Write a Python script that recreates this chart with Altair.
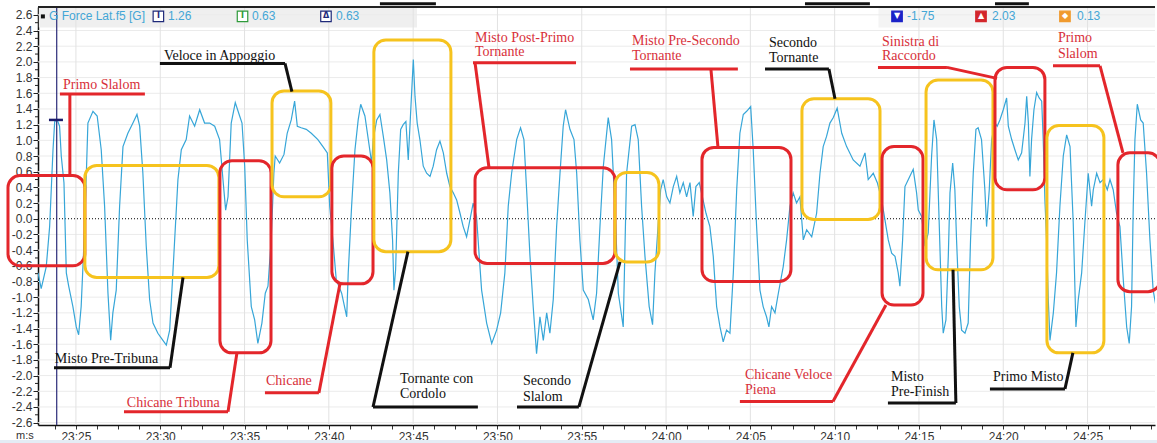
import altair as alt
import pandas as pd

# ---- lap trace: time in seconds (23:25 -> 23*60+25), lateral acceleration in G ----
time_s = [
    1402.75, 1402.94, 1403.24, 1403.44, 1403.64, 1403.74, 1403.89, 1404.03, 1404.13, 1404.29,
    1404.43, 1404.57, 1404.82, 1405.02, 1405.16, 1405.31, 1405.52, 1405.71, 1406.01, 1406.26,
    1406.50, 1406.70, 1406.90, 1407.06, 1407.19, 1407.39, 1407.59, 1407.79, 1408.08, 1408.38,
    1408.62, 1408.78, 1408.97, 1409.17, 1409.37, 1409.57, 1409.86, 1410.16, 1410.36, 1410.56,
    1410.75, 1411.05, 1411.25, 1411.54, 1411.74, 1412.04, 1412.34, 1412.63, 1412.93, 1413.23,
    1413.52, 1413.72, 1413.88, 1414.02, 1414.21, 1414.45, 1414.71, 1414.85, 1415.01, 1415.16,
    1415.40, 1415.60, 1415.79, 1416.03, 1416.23, 1416.39, 1416.58, 1416.74, 1416.82, 1417.08,
    1417.34, 1417.53, 1417.77, 1417.97, 1418.13, 1418.36, 1418.66, 1418.96, 1419.35, 1419.65,
    1419.91, 1420.05, 1420.24, 1420.44,
    1420.76, 1421.06, 1421.15, 1421.35, 1421.55, 1421.74, 1421.89, 1422.14, 1422.34, 1422.54,
    1422.63, 1422.84, 1423.03, 1423.23, 1423.43, 1423.62, 1423.78, 1423.86, 1423.96, 1424.12,
    1424.26, 1424.41, 1424.57, 1424.71, 1424.85, 1425.01, 1425.11, 1425.24, 1425.40, 1425.60,
    1425.80, 1426.00, 1426.19, 1426.39, 1426.59, 1426.79, 1426.99, 1427.18, 1427.38, 1427.58,
    1427.78, 1427.97, 1428.17, 1428.37, 1428.56, 1428.76, 1428.92, 1429.06, 1429.36, 1429.66,
    1429.95, 1430.19, 1430.44, 1430.64, 1430.84, 1431.14, 1431.37, 1431.57, 1431.73, 1431.93,
    1432.12, 1432.32, 1432.52, 1432.72, 1432.92, 1433.11, 1433.31, 1433.51, 1433.71, 1433.90,
    1434.04, 1434.30, 1434.54, 1434.70, 1434.89, 1435.09, 1435.39, 1435.68, 1435.88, 1436.08,
    1436.28, 1436.57, 1436.77, 1436.97, 1437.17, 1437.46,
    1437.66, 1437.96, 1438.16, 1438.35, 1438.55, 1438.75, 1439.00, 1439.20, 1439.34, 1439.54,
    1439.68, 1439.83, 1440.04, 1440.23, 1440.43, 1440.63, 1440.82, 1441.02, 1441.22, 1441.42,
    1441.61, 1441.77, 1441.97, 1442.37, 1442.60, 1442.80, 1443.00, 1443.20, 1443.39, 1443.59,
    1443.79, 1443.99, 1444.19, 1444.38, 1444.58, 1444.78, 1445.02, 1445.17, 1445.37, 1445.57,
    1445.76, 1445.96, 1446.10, 1446.26, 1446.46, 1446.66, 1446.95, 1447.15, 1447.35, 1447.54,
    1447.74, 1447.94, 1448.14, 1448.34, 1448.64, 1448.93, 1449.13, 1449.32, 1449.52, 1449.72,
    1449.92, 1450.15, 1450.42, 1450.71, 1451.10, 1451.50, 1451.80, 1451.99, 1452.29, 1452.53,
    1452.79, 1452.98, 1453.18, 1453.38, 1453.58, 1453.77, 1453.87, 1454.03, 1454.17,
    1454.37, 1454.66, 1454.86, 1454.96, 1455.16, 1455.36, 1455.55, 1455.75, 1455.89, 1456.05,
    1456.20, 1456.35, 1456.44, 1456.60, 1456.74, 1456.84, 1457.00, 1457.13, 1457.23, 1457.39,
    1457.53, 1457.73, 1457.92, 1458.06, 1458.22, 1458.38, 1458.51, 1458.71, 1458.91, 1459.01,
    1459.17, 1459.31, 1459.51, 1459.64, 1459.80, 1460.00, 1460.20, 1460.30, 1460.50, 1460.69,
    1460.89, 1461.09, 1461.29, 1461.39, 1461.49, 1461.58, 1461.68, 1461.82, 1461.98, 1462.13,
    1462.28, 1462.37, 1462.47, 1462.57, 1462.67, 1462.77, 1462.97, 1463.16, 1463.36, 1463.56,
    1463.76, 1463.96, 1464.15, 1464.31, 1464.45, 1464.65, 1464.84, 1465.04, 1465.24, 1465.34,
    1465.54, 1465.74, 1465.93, 1466.17, 1466.33, 1466.52, 1466.72, 1466.92, 1467.12, 1467.32,
    1467.47, 1467.61, 1467.71, 1467.81, 1467.95, 1468.15, 1468.30, 1468.50, 1468.70, 1468.89,
    1469.06,
]

lat_g = [
    -0.69, -0.89, -0.61, -0.10, 0.88, 1.24, 1.26, 1.18, 0.80, 0.46,
    -0.69, -0.86, -1.12, -1.38, -1.48, -1.12, -0.10, 1.22, 1.37, 1.31,
    0.88, 0.16, -0.95, -1.55, -1.20, -0.91, 0.16, 0.92, 1.09, 1.22,
    1.33, 1.18, 0.58, -0.35, -1.03, -1.33, -1.46, -1.55, -1.61, -1.42,
    -0.69, 0.50, 0.88, 1.01, 1.31, 1.18, 1.39, 1.22, 1.22, 1.18,
    1.01, 0.50, 0.11, 0.28, 1.22, 1.48, 1.31, 1.22, 0.67, -0.27,
    -1.12, -1.29, -1.59, -1.33, -0.95, -0.86, -0.27, 0.58, 0.80, 0.71,
    0.82, 1.09, 1.26, 1.50, 1.18, 1.16, 1.14, 1.09, 1.01, 0.92,
    0.84, 0.16, -0.27, -0.78,
    -0.95, -1.25, -0.69, 0.16, 0.88, 1.26, 1.46, 1.31, 1.01, 0.71,
    1.01, 1.26, 1.33, 1.05, 0.75, 0.33, -0.27, -0.91, -0.65, 0.58,
    1.14, 1.20, 1.24, 0.75, 1.35, 2.03, 1.56, 1.22, 1.01, 0.67,
    0.58, 0.54, 0.67, 0.88, 0.99, 0.84, 0.58, 0.41, 0.33, 0.24,
    0.07, -0.10, -0.23, -0.01, 0.20, 0.03, -0.48, -0.91, -1.33, -1.59,
    -1.42, -1.20, -0.69, 0.16, 0.58, 1.01, 1.16, 1.01, 0.37, -0.48,
    -1.12, -1.72, -1.25, -1.55, -1.20, -1.46, -1.03, -0.10, 0.58, 1.18,
    1.39, 1.14, 1.01, 0.58, -0.27, -0.91, -1.03, -1.29, -0.95, -0.10,
    0.67, 1.29, 1.01, 0.16, -0.95, -1.38,
    0.58, 1.18, 1.20, 1.01, 0.16, -0.48, -1.12, -1.35, -0.69, -0.05,
    0.37, 0.50, 0.28, 0.20, 0.41, 0.54, 0.33, 0.46, 0.28, 0.46,
    0.03, 0.41, 0.46, 0.07, -0.10, -0.48, -1.12, -1.38, -1.57, -1.42,
    -1.46, -0.69, 0.37, 1.09, 1.33, 1.37, 1.43, 0.88, -0.10, -0.91,
    -1.12, -1.25, -1.38, -1.12, -1.20, -0.95, -0.61, -0.27, 0.16, 0.33,
    0.20, 0.28, -0.27, -0.14, -0.23, 0.07, 0.58, 0.92, 1.05, 1.22,
    1.29, 1.41, 1.09, 0.92, 0.75, 0.67, 0.84, 0.50, 0.58, 0.46,
    0.24, -0.01, -0.27, -0.44, -0.48, -0.69, -0.86, -0.27, 0.41,
    0.50, 0.63, 0.33, 0.11, 0.03, -0.35, -0.18, 0.80, 1.26, 1.01,
    -0.05, -1.12, -1.46, -1.29, -0.48, 0.33, 0.71, 0.37, -0.27, -1.12,
    -1.42, -1.46, -1.33, -0.27, 0.58, 1.14, 1.16, 1.01, 0.37, -0.10,
    0.37, 1.01, 1.22, 1.18, 1.26, 1.39, 1.54, 1.18, 1.01, 0.88,
    0.75, 0.84, 1.22, 1.56, 1.22, 0.54, 1.01, 1.39, 1.61, 1.54,
    1.50, 1.01, 0.24, -0.27, -1.03, -1.55, -1.20, -0.69, 0.16, 0.80,
    1.07, 0.92, -0.05, -1.38, -1.03, -0.69, -0.05, 0.58, 0.16, 0.37,
    0.58, 0.46, 0.50, 0.37, 0.50, 0.37, 0.07, -0.10, -0.78, -1.38,
    -1.59, -1.12, 0.16, 1.01, 1.46, 1.26, 1.22, 0.58, -0.27, -0.91,
    -1.12,
]

# ---- track sections: (start s, end s, top G, bottom G, colour) ----
RED = "#e3262b"
YEL = "#f6c31e"
RED_TXT = "#d8303a"
BLK = "#111111"

sections = [
    (1400.97, 1405.53, 0.55, -0.60, RED),
    (1405.53, 1413.48, 0.68, -0.75, YEL),
    (1413.54, 1416.57, 0.74, -1.71, RED),
    (1416.63, 1420.12, 1.63, 0.28, YEL),
    (1420.18, 1422.62, 0.80, -0.83, RED),
    (1422.67, 1427.24, 2.28, -0.42, YEL),
    (1428.67, 1436.97, 0.65, -0.57, RED),
    (1436.97, 1439.58, 0.59, -0.55, YEL),
    (1442.13, 1447.41, 0.91, -0.80, RED),
    (1448.06, 1452.69, 1.53, -0.01, YEL),
    (1452.81, 1455.24, 0.92, -1.10, RED),
    (1455.42, 1459.39, 1.77, -0.65, YEL),
    (1459.51, 1462.47, 1.93, 0.37, RED),
    (1462.59, 1465.97, 1.19, -1.71, YEL),
    (1466.80, 1469.30, 0.84, -0.93, RED),
]

# leader lines: (s1, G1, s2, G2, colour)
leaders = [
    (1404.05, 1.59, 1409.09, 1.59, RED), (1404.64, 1.59, 1404.64, 0.55, RED),
    (1409.98, 1.98, 1417.40, 1.98, BLK), (1417.40, 1.98, 1417.81, 1.62, BLK),
    (1403.70, -1.90, 1410.58, -1.90, BLK), (1410.58, -1.90, 1411.35, -0.75, BLK),
    (1407.85, -2.46, 1414.02, -2.46, RED), (1414.02, -2.46, 1414.55, -1.71, RED),
    (1416.21, -2.22, 1419.41, -2.22, RED), (1419.41, -2.22, 1420.66, -0.83, RED),
    (1422.62, -2.40, 1428.84, -2.40, BLK), (1422.62, -2.40, 1424.69, -0.42, BLK),
    (1431.16, -2.40, 1434.83, -2.40, BLK), (1434.83, -2.40, 1437.27, -0.55, BLK),
    (1428.55, 1.99, 1434.66, 1.99, RED), (1428.67, 1.99, 1429.50, 0.65, RED),
    (1437.86, 1.91, 1444.26, 1.91, RED), (1442.66, 1.91, 1443.08, 0.91, RED),
    (1445.87, 1.91, 1449.66, 1.91, BLK), (1449.66, 1.91, 1450.02, 1.53, BLK),
    (1452.57, 1.93, 1456.66, 1.93, RED), (1456.66, 1.93, 1459.63, 1.79, RED),
    (1462.95, 1.95, 1465.74, 1.95, RED), (1465.74, 1.95, 1467.10, 0.84, RED),
    (1444.38, -2.33, 1449.90, -2.33, RED), (1449.90, -2.33, 1453.04, -1.10, RED),
    (1453.16, -2.35, 1457.19, -2.35, BLK), (1457.19, -2.35, 1457.02, -0.65, BLK),
    (1459.21, -2.17, 1463.66, -2.17, BLK), (1463.66, -2.17, 1464.13, -1.71, BLK),
]

# section names: (text, s, G, colour)
names = [
    ("Primo Slalom", 1404.23, 1.71, RED_TXT),
    ("Veloce in Appoggio", 1410.22, 2.08, BLK),
    ("Misto Pre-Tribuna", 1403.75, -1.79, BLK),
    ("Chicane Tribuna", 1408.02, -2.35, RED_TXT),
    ("Chicane", 1416.27, -2.07, RED_TXT),
    ("Tornante con", 1424.22, -2.04, BLK), ("Cordolo", 1424.22, -2.23, BLK),
    ("Secondo", 1431.51, -2.07, BLK), ("Slalom", 1431.51, -2.27, BLK),
    ("Misto Post-Primo", 1428.67, 2.31, RED_TXT), ("Tornante", 1428.67, 2.12, RED_TXT),
    ("Misto Pre-Secondo", 1437.98, 2.27, RED_TXT), ("Tornante", 1437.98, 2.08, RED_TXT),
    ("Secondo", 1446.10, 2.24, BLK), ("Tornante", 1446.10, 2.05, BLK),
    ("Sinistra di", 1452.81, 2.26, RED_TXT), ("Raccordo", 1452.81, 2.07, RED_TXT),
    ("Primo", 1463.24, 2.30, RED_TXT), ("Slalom", 1463.24, 2.10, RED_TXT),
    ("Chicane Veloce", 1444.68, -1.99, RED_TXT), ("Piena", 1444.68, -2.19, RED_TXT),
    ("Misto", 1453.34, -2.02, BLK), ("Pre-Finish", 1453.34, -2.21, BLK),
    ("Primo Misto", 1459.39, -2.02, BLK),
]

# cursor readout strip
cursor_s = 1403.86
cursor_g = 1.26
stat_icons = [  # (s, glyph, box colour, glyph colour, filled)
    (1409.89, "I", "#1f2a7a", "#1f2a7a", False),
    (1414.88, "I", "#2e9a3a", "#2e9a3a", False),
    (1419.83, "\u0394", "#1f2a7a", "#1f2a7a", False),
    (1453.70, "\u25bc", "#1b22c8", "#ffffff", True),
    (1458.68, "\u25b2", "#d3262b", "#ffffff", True),
    (1463.66, "\u25c6", "#f09a2e", "#ffffff", True),
]
stat_values = [(1410.46, "1.26"), (1415.44, "0.63"), (1420.42, "0.63"),
               (1454.29, "-1.75"), (1459.33, "2.03"), (1464.37, "0.13")]

T0, T1 = 1402.75, 1469.0
G0, G1 = -2.63, 2.70
HEAD_G = 2.58
TRACE = "#37a6d8"

x_ticks = [1403.75 + 1.25 * i for i in range(53)]
y_ticks = [round(-2.6 + 0.2 * i, 1) for i in range(27)]
y_minor = [round(-2.5 + 0.2 * i, 1) for i in range(26)]
major_s = [1405 + 5 * i for i in range(13)]

xs = alt.Scale(domain=[T0, T1], nice=False, zero=False)
ys = alt.Scale(domain=[G0, G1], nice=False, zero=False)

# one axis definition per channel, shared by every layer so they merge cleanly
x_axis = alt.Axis(
    values=x_ticks, grid=False, tickSize=4, tickColor="#333", domainColor="#111",
    domainWidth=1.5, labelPadding=2, labelFlush=False, labelOverlap=False,
    labelFont="Liberation Sans", labelFontSize=12, labelColor="#333",
    labelExpr="datum.value % 5 == 0 ? (floor(datum.value / 60) + ':' + "
              "(datum.value % 60 < 10 ? '0' : '') + (datum.value % 60)) : ''",
    title=None)
y_axis = alt.Axis(
    values=y_ticks, grid=False, tickSize=5, tickColor="#222", domainColor="#111",
    domainWidth=1.5, labelPadding=1, labelOverlap=False,
    labelFont="Liberation Sans", labelFontSize=12, labelColor="#333",
    labelExpr="replace(format(datum.value, '.1f'), '\u2212', '-')", title=None)


def X(field):
    return alt.X(field, type="quantitative", scale=xs, axis=x_axis)


def Y(field):
    return alt.Y(field, type="quantitative", scale=ys, axis=y_axis)


trace_df = pd.DataFrame({"s": time_s[:len(lat_g)], "g": lat_g[:len(time_s)]})

# header bands
bands = pd.DataFrame([
    {"a": 1402.80, "b": 1425.23, "top": 2.69, "bot": 2.44, "c": "#efefef"},
    {"a": 1452.60, "b": 1469.0, "top": 2.69, "bot": 2.44, "c": "#f4f4f4"},
    {"a": 1400.40, "b": 1469.7, "top": -2.82, "bot": -2.95, "c": "#e4ecf5"},
])
band_layer = alt.Chart(bands).mark_rect().encode(
    x=X("a"), x2="b", y=Y("top"), y2="bot", fill=alt.Fill("c:N", scale=None))

# grid
hgrid = alt.Chart(pd.DataFrame({"g": [v for v in y_ticks if v != 0]})).mark_rule(
    color="#ebebeb", strokeWidth=1).encode(y=Y("g"))
vgrid = alt.Chart(pd.DataFrame({"s": major_s})).mark_rule(
    color="#e2e2e2", strokeWidth=1).encode(x=X("s"))
zero_line = alt.Chart(pd.DataFrame({"g": [0.0]})).mark_rule(
    color="#000000", strokeWidth=1, strokeDash=[1, 2]).encode(y=Y("g"))

y_minor_ticks = alt.Chart(pd.DataFrame({"g": y_minor})).mark_rule(
    color="#222", strokeWidth=1).encode(y=Y("g"), x=alt.value(-3), x2=alt.value(0))

# top frame
frame = alt.Chart(pd.DataFrame({"a": [T0], "b": [T1], "g": [G1]})).mark_rule(
    color="#222", strokeWidth=2).encode(x=X("a"), x2="b", y=Y("g"))
tabs = alt.Chart(pd.DataFrame({"a": [1423.03, 1448.24, 1459.51],
                               "b": [1426.35, 1452.09, 1461.52],
                               "g": [2.74, 2.74, 2.74]})).mark_rule(
    color="#111", strokeWidth=3).encode(x=X("a"), x2="b", y=Y("g"))

# the trace
trace = alt.Chart(trace_df).mark_line(color=TRACE, strokeWidth=1.2, clip=True).encode(
    x=X("s"), y=Y("g"))

# cursor
cursor = alt.Chart(pd.DataFrame({"s": [cursor_s], "a": [G0], "b": [G1]})).mark_rule(
    color="#2a2a78", strokeWidth=1.2).encode(x=X("s"), y=Y("a"), y2="b")
cursor_mark = alt.Chart(pd.DataFrame({"a": [1403.40], "b": [1404.23], "g": [cursor_g]})).mark_rule(
    color="#1c1c6c", strokeWidth=2.5).encode(x=X("a"), x2="b", y=Y("g"))

# section boxes, leaders and names
sec_df = pd.DataFrame(sections, columns=["a", "b", "top", "bot", "c"])
boxes = alt.Chart(sec_df).mark_rect(cornerRadius=12, fillOpacity=0, strokeWidth=3).encode(
    x=X("a"), x2="b", y=Y("top"), y2="bot", stroke=alt.Stroke("c:N", scale=None))

lead_df = pd.DataFrame(leaders, columns=["a", "ga", "b", "gb", "c"])
lead_layer = alt.Chart(lead_df).mark_rule(strokeWidth=3).encode(
    x=X("a"), x2="b", y=Y("ga"), y2="gb", color=alt.Color("c:N", scale=None))

name_df = pd.DataFrame(names, columns=["t", "s", "g", "c"])
name_layer = alt.Chart(name_df).mark_text(
    align="left", baseline="middle", font="Liberation Serif", fontSize=14).encode(
    x=X("s"), y=Y("g"), text="t:N", color=alt.Color("c:N", scale=None))

# readout strip
head_text = alt.Chart(pd.DataFrame({"s": [1403.40], "g": [HEAD_G], "t": ["G Force Lat.f5 [G]"]})).mark_text(
    align="left", baseline="middle", font="Liberation Sans", fontSize=12, color="#44a6d6").encode(
    x=X("s"), y=Y("g"), text="t:N")
head_sq = alt.Chart(pd.DataFrame({"s": [1403.04], "g": [HEAD_G]})).mark_square(
    size=16, color="#111", opacity=1).encode(x=X("s"), y=Y("g"))

icon_df = pd.DataFrame(stat_icons, columns=["s", "glyph", "box", "fg", "filled"])
icon_df["g"] = HEAD_G
icon_df["fillc"] = [b if f else "#ffffff" for b, f in zip(icon_df["box"], icon_df["filled"])]
icon_boxes = alt.Chart(icon_df).mark_square(size=110, strokeWidth=1.2, opacity=1).encode(
    x=X("s"), y=Y("g"), fill=alt.Fill("fillc:N", scale=None), stroke=alt.Stroke("box:N", scale=None))
icon_glyphs = alt.Chart(icon_df).mark_text(
    align="center", baseline="middle", font="DejaVu Sans", fontSize=8, fontWeight="bold").encode(
    x=X("s"), y=Y("g"), text="glyph:N", color=alt.Color("fg:N", scale=None))
val_df = pd.DataFrame(stat_values, columns=["s", "t"])
val_df["g"] = HEAD_G
val_layer = alt.Chart(val_df).mark_text(
    align="left", baseline="middle", font="Liberation Sans", fontSize=12, color="#44a6d6").encode(
    x=X("s"), y=Y("g"), text="t:N")

ms_label = alt.Chart(pd.DataFrame({"s": [1401.45], "g": [-2.77], "t": ["m:s"]})).mark_text(
    align="left", baseline="middle", font="Liberation Sans", fontSize=11, color="#333").encode(
    x=X("s"), y=Y("g"), text="t:N")

chart = alt.layer(
    band_layer, hgrid, vgrid, y_minor_ticks, zero_line, trace,
    cursor, cursor_mark, boxes, lead_layer, name_layer,
    head_sq, head_text, icon_boxes, icon_glyphs, val_layer, ms_label, frame, tabs,
).properties(
    width=1117, height=418,
    padding={"left": 38, "top": 7, "right": 2, "bottom": 18},
    autosize=alt.AutoSizeParams(type="none"),
).configure_view(stroke=None)

chart.save("out.html", embed_options={"renderer": "svg", "actions": False})
